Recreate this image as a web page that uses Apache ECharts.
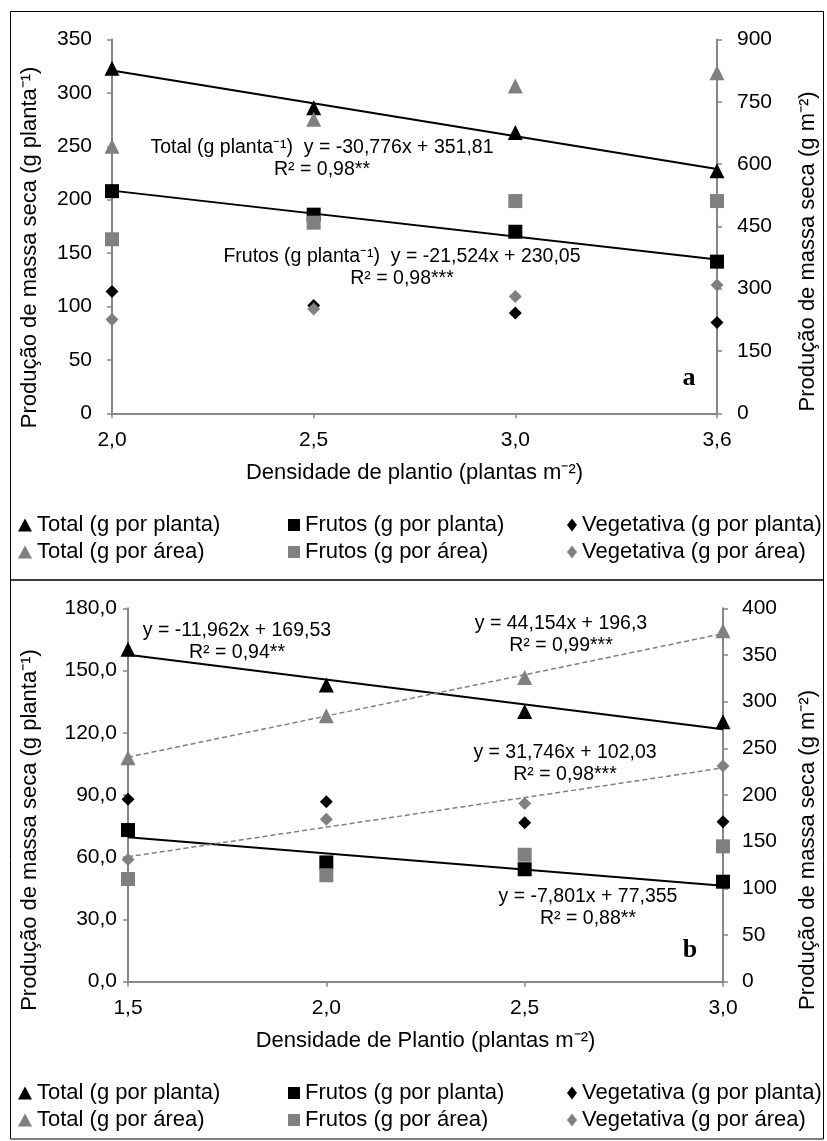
<!DOCTYPE html>
<html>
<head>
<meta charset="utf-8">
<script src="https://cdn.jsdelivr.net/npm/echarts@6/dist/echarts.min.js"></script>
<style>
  html, body { margin: 0; padding: 0; background: #fff; }
  #chart { width: 827px; height: 1141px; }
</style>
</head>
<body>
<div id="chart"></div>
<script>
// painel a - densidade (plantas m-2)
var catsA = ['2,0', '2,5', '3,0', '3,6']
var totalPlantaA = [323, 286, 263, 227]
var totalAreaA = [643, 708, 788, 820]
var frutosPlantaA = [208, 186, 170, 142]
var frutosAreaA = [419, 459, 511, 511]
var vegPlantaA = [114, 101, 94, 85]
var vegAreaA = [226, 251, 281, 309]
// linhas de tendencia (inicio, fim)
var trendTotalA = [321.0, 228.7]
var trendFrutosA = [208.5, 144.0]

// painel b
var catsB = ['1,5', '2,0', '2,5', '3,0']
var totalPlantaB = [160.2, 143.0, 130.2, 125.3]
var totalAreaB = [240, 285, 326, 376]
var frutosPlantaB = [73.1, 57.5, 54.2, 48.2]
var frutosAreaB = [110, 114, 136, 145]
var vegPlantaB = [87.9, 86.8, 76.6, 77.1]
var vegAreaB = [131, 174, 191, 231]
var trendTotalB = [157.6, 121.7]
var trendFrutosB = [69.6, 46.2]
var trendTotalAreaB = [240.5, 372.9]
var trendVegAreaB = [133.8, 229.0]

var FONT = 'Liberation Sans, Arial, sans-serif'
var AXIS_GRAY = '#868686'
var BLACK = '#000000'
var GRAY = '#808080'

var names = {
  tp: 'Total (g por planta)',
  ta: 'Total (g por área)',
  fp: 'Frutos (g por planta)',
  fa: 'Frutos (g por área)',
  vp: 'Vegetativa (g por planta)',
  va: 'Vegetativa (g por área)'
}

function xAxisOf (grid, cats, title, gap) {
  return {
    type: 'category', gridIndex: grid, data: cats, boundaryGap: false,
    name: title, nameLocation: 'middle', nameGap: gap,
    nameTextStyle: { fontFamily: FONT, fontSize: 22, color: '#000' },
    axisLine: { lineStyle: { color: AXIS_GRAY, width: 2 } },
    axisTick: { alignWithLabel: true, length: 5, lineStyle: { color: AXIS_GRAY, width: 1.5 } },
    axisLabel: { fontFamily: FONT, fontSize: 21, color: '#000', margin: 16 },
    splitLine: { show: false }
  }
}

// shift: desloca o titulo para baixo (px)
function yAxisOf (grid, pos, max, interval, title, gap, shift, margin, fmt) {
  return {
    type: 'value', gridIndex: grid, position: pos, min: 0, max: max, interval: interval,
    name: title, nameLocation: 'middle', nameGap: gap, nameRotate: 90,
    nameTextStyle: { fontFamily: FONT, fontSize: 22, color: '#000', padding: [0, shift * 2, 0, 0] },
    axisLine: { show: true, lineStyle: { color: AXIS_GRAY, width: 2 } },
    axisTick: { show: true, length: 5, lineStyle: { color: AXIS_GRAY, width: 1.5 } },
    axisLabel: { fontFamily: FONT, fontSize: 21, color: '#000', margin: margin, formatter: fmt },
    splitLine: { show: false }
  }
}

function scatter (name, data, x, y, symbol, size, color) {
  return {
    name: name, type: 'scatter', xAxisIndex: x, yAxisIndex: y, data: data,
    symbol: symbol, symbolSize: size, itemStyle: { color: color, opacity: 1 }, z: 3
  }
}

function trend (id, cats, ends, x, y, color, dashed) {
  return {
    name: id, type: 'line', xAxisIndex: x, yAxisIndex: y, symbol: 'none',
    data: [[cats[0], ends[0]], [cats[cats.length - 1], ends[1]]],
    lineStyle: { color: color, width: dashed ? 1.5 : 2, type: dashed ? [5, 3] : 'solid' },
    z: 2, silent: true
  }
}

function legendCol (left, top, icon, w, h, items) {
  return {
    left: left, top: top, orient: 'vertical', itemGap: 5, itemWidth: w, itemHeight: h,
    padding: 0, height: 60, selectedMode: false, icon: icon,
    textStyle: { fontFamily: FONT, fontSize: 22, color: '#000', lineHeight: 22 },
    data: items
  }
}

function annot (x, y, text) {
  return {
    type: 'text', silent: true,
    style: { text: text, x: x, y: y, fill: '#000', font: '19.5px ' + FONT, textAlign: 'center', textVerticalAlign: 'top', lineHeight: 22 }
  }
}

var yTitle1 = 'Produção de massa seca (g planta⁻¹)'
var yTitle2 = 'Produção de massa seca (g m⁻²)'
var fmtB = function (v) { return v.toFixed(1).replace('.', ',') }

var option = {
  backgroundColor: '#fff',
  animation: false,
  grid: [
    { left: 112, right: 102, top: 39.5, bottom: 727.7 },
    { left: 128, right: 103, top: 608.3, bottom: 159.3 }
  ],
  xAxis: [
    xAxisOf(0, catsA, 'Densidade de plantio (plantas m⁻²)', 49),
    xAxisOf(1, catsB, 'Densidade de Plantio (plantas m⁻²)', 48)
  ],
  yAxis: [
    yAxisOf(0, 'left', 350, 50, yTitle1, 71, 21, 20),
    yAxisOf(0, 'right', 900, 150, yTitle2, 80, 25, 20),
    yAxisOf(1, 'left', 180, 30, yTitle1, 87, 35, 11, fmtB),
    yAxisOf(1, 'right', 400, 50, yTitle2, 74, 55, 19)
  ],
  legend: [
    legendCol(18, 514, 'triangle', 14, 13, [names.tp, names.ta]),
    legendCol(288, 514, 'rect', 12, 12, [names.fp, names.fa]),
    legendCol(567, 514, 'diamond', 10, 13, [names.vp, names.va]),
    legendCol(18, 1082, 'triangle', 14, 13, [names.tp, names.ta]),
    legendCol(288, 1082, 'rect', 12, 12, [names.fp, names.fa]),
    legendCol(567, 1082, 'diamond', 10, 13, [names.vp, names.va])
  ],
  series: [
    trend('tendTotalA', catsA, trendTotalA, 0, 0, BLACK, false),
    trend('tendFrutosA', catsA, trendFrutosA, 0, 0, BLACK, false),
    scatter(names.tp, totalPlantaA, 0, 0, 'triangle', 15, BLACK),
    scatter(names.fp, frutosPlantaA, 0, 0, 'rect', 14, BLACK),
    scatter(names.vp, vegPlantaA, 0, 0, 'diamond', 13, BLACK),
    scatter(names.ta, totalAreaA, 0, 1, 'triangle', 15, GRAY),
    scatter(names.fa, frutosAreaA, 0, 1, 'rect', 14, GRAY),
    scatter(names.va, vegAreaA, 0, 1, 'diamond', 13, GRAY),

    trend('tendTotalB', catsB, trendTotalB, 1, 2, BLACK, false),
    trend('tendFrutosB', catsB, trendFrutosB, 1, 2, BLACK, false),
    trend('tendTotalAreaB', catsB, trendTotalAreaB, 1, 3, GRAY, true),
    trend('tendVegAreaB', catsB, trendVegAreaB, 1, 3, GRAY, true),
    scatter(names.tp, totalPlantaB, 1, 2, 'triangle', 15, BLACK),
    scatter(names.fp, frutosPlantaB, 1, 2, 'rect', 14, BLACK),
    scatter(names.vp, vegPlantaB, 1, 2, 'diamond', 13, BLACK),
    scatter(names.ta, totalAreaB, 1, 3, 'triangle', 15, GRAY),
    scatter(names.fa, frutosAreaB, 1, 3, 'rect', 14, GRAY),
    scatter(names.va, vegAreaB, 1, 3, 'diamond', 13, GRAY)
  ],
  graphic: [
    { type: 'rect', shape: { x: 10.5, y: 11.5, width: 813, height: 568.5 }, style: { fill: 'none', stroke: '#000', lineWidth: 1 }, silent: true },
    { type: 'rect', shape: { x: 10.5, y: 580, width: 813, height: 559 }, style: { fill: 'none', stroke: '#000', lineWidth: 1 }, silent: true },
    annot(322, 137, 'Total (g planta⁻¹)  y = -30,776x + 351,81\nR² = 0,98**'),
    annot(402, 246, 'Frutos (g planta⁻¹)  y = -21,524x + 230,05\nR² = 0,98***'),
    annot(237, 620, 'y = -11,962x + 169,53\nR² = 0,94**'),
    annot(561, 613, 'y = 44,154x + 196,3\nR² = 0,99***'),
    annot(565, 742, 'y = 31,746x + 102,03\nR² = 0,98***'),
    annot(588, 886, 'y = -7,801x + 77,355\nR² = 0,88**'),
    { type: 'text', silent: true, style: { text: 'a', x: 689, y: 378, fill: '#000', font: 'bold 26px Liberation Serif, serif', textAlign: 'center', textVerticalAlign: 'middle' } },
    { type: 'text', silent: true, style: { text: 'b', x: 690, y: 950, fill: '#000', font: 'bold 26px Liberation Serif, serif', textAlign: 'center', textVerticalAlign: 'middle' } }
  ]
}

var myChart = echarts.init(document.getElementById('chart'))
myChart.setOption(option, true)
</script>
</body>
</html>
